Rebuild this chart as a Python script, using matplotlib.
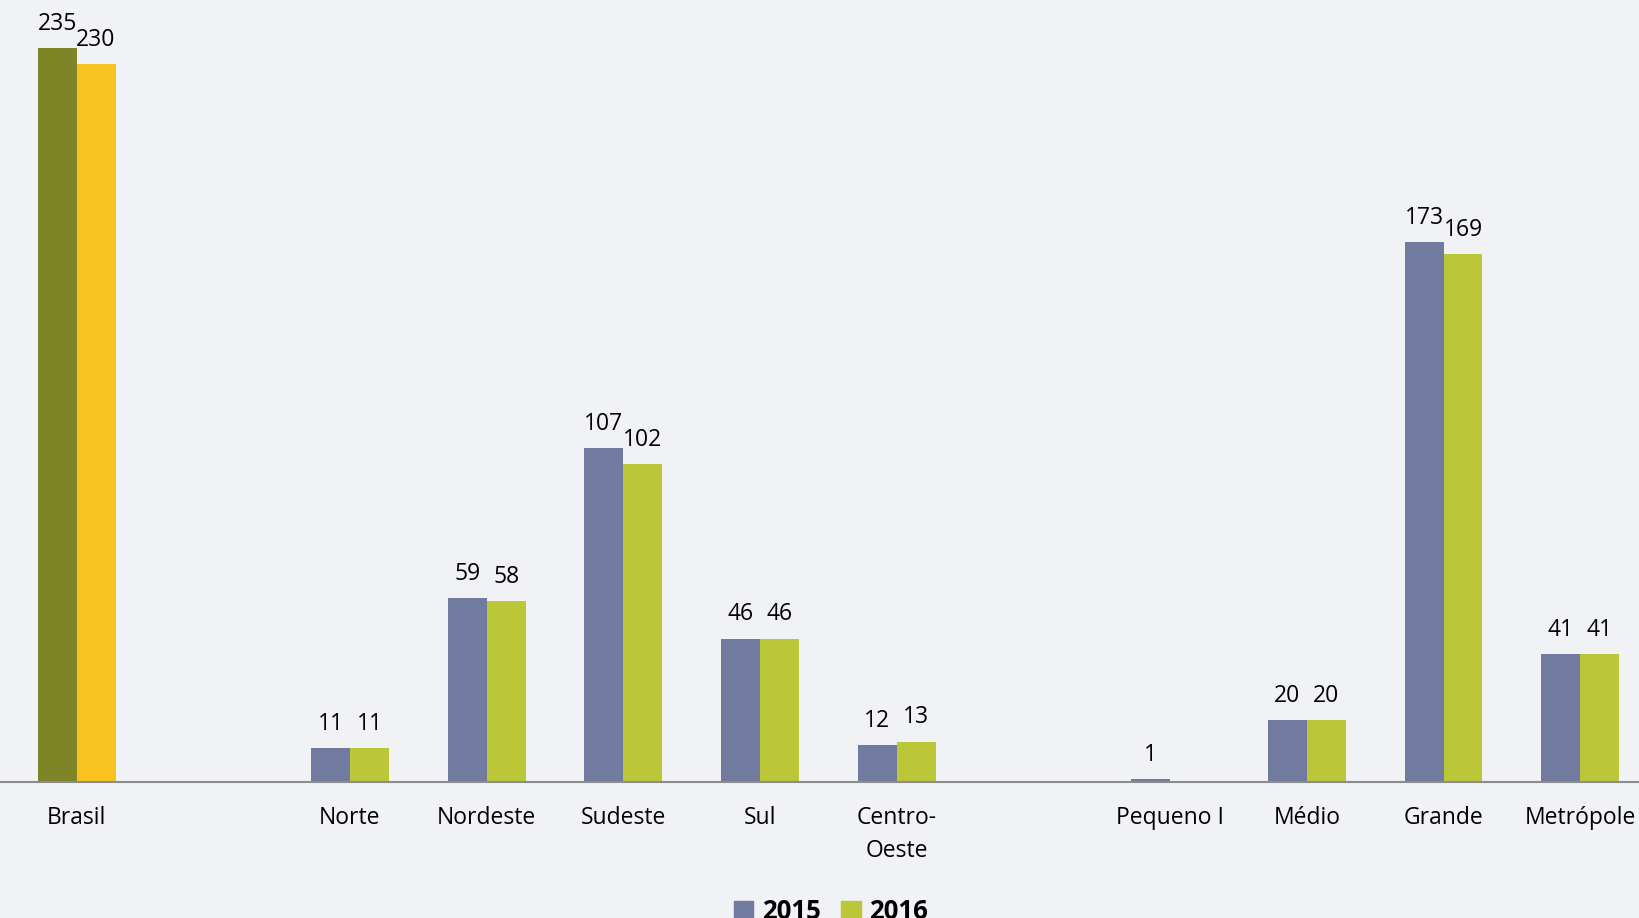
import matplotlib.pyplot as plt
from matplotlib.patches import Patch
import numpy as np

# slots: Brasil, gap, 5 regions, gap, 4 city sizes
categories = ['Brasil', '', 'Norte', 'Nordeste', 'Sudeste', 'Sul', 'Centro-\nOeste',
              '', 'Pequeno I', 'Médio', 'Grande', 'Metrópole']
v2015 = [235, None, 11, 59, 107, 46, 12, None, 1, 20, 173, 41]
v2016 = [230, None, 11, 58, 102, 46, 13, None, None, 20, 169, 41]

c2015 = '#717BA0'
c2016 = '#BBC737'
brasil_2015 = '#7D8526'
brasil_2016 = '#F8C221'

plt.rcParams['font.family'] = ['Open Sans', 'DejaVu Sans']

fig = plt.figure(figsize=(16.39, 9.18), dpi=100)
fig.patch.set_facecolor('#F1F2F6')
ax = fig.add_axes([0, 0.148, 1, 0.852])
ax.set_facecolor('none')

x = np.arange(len(categories))
w = 0.285

for i, (a, b) in enumerate(zip(v2015, v2016)):
    ca = brasil_2015 if i == 0 else c2015
    cb = brasil_2016 if i == 0 else c2016
    if a is not None:
        ax.bar(x[i] - w / 2, a, w, color=ca)
        ax.annotate(str(a), (x[i] - w / 2, a), xytext=(0, 13), textcoords='offset points',
                    ha='center', va='baseline', fontsize=16.5)
    if b is not None:
        ax.bar(x[i] + w / 2, b, w, color=cb)
        ax.annotate(str(b), (x[i] + w / 2, b), xytext=(0, 13), textcoords='offset points',
                    ha='center', va='baseline', fontsize=16.5)

ax.set_xlim(-0.56, 11.43)
ax.set_ylim(0, 250.5)
ax.set_xticks(x)
ax.set_xticklabels(categories, fontsize=16.5, linespacing=1.5)
ax.tick_params(axis='x', length=0, pad=17)
ax.set_yticks([])
for s in ['top', 'right', 'left']:
    ax.spines[s].set_visible(False)
ax.spines['bottom'].set_color('#8C8C8C')
ax.spines['bottom'].set_linewidth(1.5)

handles = [Patch(color=c2015, label='2015'), Patch(color=c2016, label='2016')]
fig.legend(handles=handles, loc='upper center', bbox_to_anchor=(0.507, 0.047), ncol=2,
           frameon=False, prop={'weight': 'bold', 'size': 18.5}, handlelength=0.75,
           handleheight=0.75, handletextpad=0.35, columnspacing=0.8)

fig.savefig('out.png', dpi=100, facecolor=fig.get_facecolor())
